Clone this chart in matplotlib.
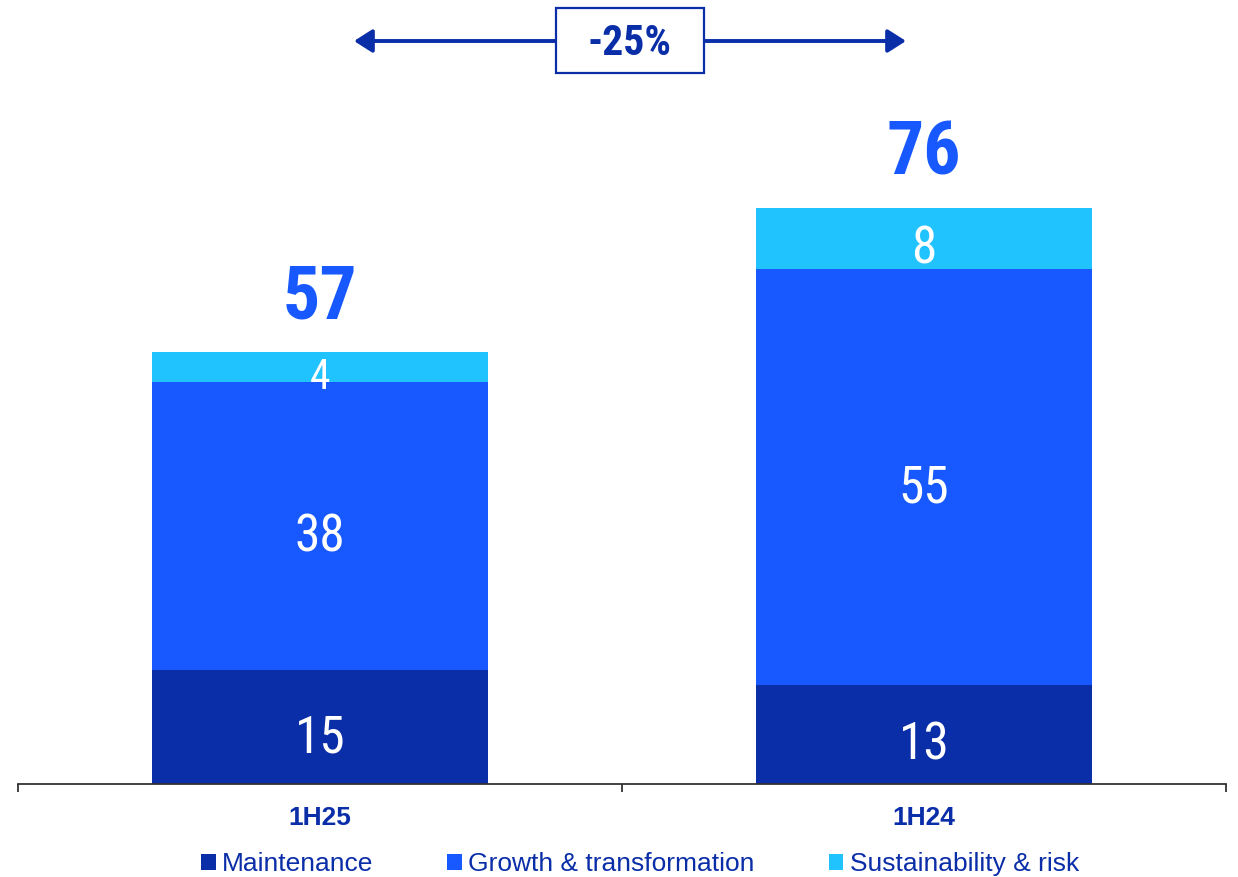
import matplotlib
matplotlib.use("Agg")
import matplotlib.pyplot as plt
from matplotlib.patches import Patch, Rectangle, FancyArrowPatch

# Capex by category (EUR m)
periods = ["1H25", "1H24"]
maintenance = [15, 13]
growth = [38, 55]
sustainability = [4, 8]
totals = [57, 76]
change_label = "-25%"
series_names = ["Maintenance", "Growth & transformation", "Sustainability & risk"]

C_MAINT = "#0A2DA8"
C_GROWTH = "#1759FF"
C_SUST = "#21C3FF"
C_TEXT = "#0A2DA8"

NUM_FONT = ["Roboto Condensed", "DejaVu Sans"]
LBL_FONT = ["Liberation Sans", "DejaVu Sans"]

fig = plt.figure(figsize=(12.38, 8.77), dpi=100)
ax = fig.add_axes([18 / 1238, 1 - 784 / 877, 1208 / 1238, 784 / 877])

x = list(range(len(periods)))
width = 0.556
stacks = [maintenance, growth, sustainability]
colors = [C_MAINT, C_GROWTH, C_SUST]
bottoms = [0] * len(periods)
for vals, col in zip(stacks, colors):
    ax.bar(x, vals, width, bottom=bottoms, color=col, edgecolor="none", zorder=2)
    for xi, b, v in zip(x, bottoms, vals):
        # thin segments get a smaller label
        small = v < 5
        ax.annotate(f"{v}", (xi, b + v / 2), xytext=(0, -16 if small else -18),
                    textcoords="offset points", ha="center", va="baseline",
                    color="white", fontsize=30 if small else 37,
                    family=NUM_FONT, zorder=3)
    bottoms = [b + v for b, v in zip(bottoms, vals)]

for xi, t in zip(x, totals):
    ax.annotate(f"{t}", (xi, t), xytext=(0, 24), textcoords="offset points",
                ha="center", va="baseline", color=C_GROWTH, fontsize=53,
                fontweight="bold", family=NUM_FONT)

ax.set_xlim(-0.5, 1.5)
ax.set_ylim(0, 784 / 7.58)
for s in ("left", "right", "top"):
    ax.spines[s].set_visible(False)
ax.spines["bottom"].set_color("#333333")
ax.spines["bottom"].set_linewidth(1.3)
ax.set_yticks([])
ax.set_xticks(x)
ax.set_xticklabels(periods, fontsize=19, fontweight="bold", color=C_TEXT, family=LBL_FONT)
ax.tick_params(axis="x", which="major", length=0, pad=16)
ax.set_xticks([-0.5, 0.5, 1.5], minor=True)
ax.tick_params(axis="x", which="minor", length=6, width=1.3, color="#333333", direction="out")

# Change indicator: double-headed arrow with boxed percentage
W, H = 1238, 877
arrow = FancyArrowPatch((354 / W, 1 - 41 / H), (906 / W, 1 - 41 / H),
                        transform=fig.transFigure, arrowstyle="<|-|>,head_length=11,head_width=7",
                        mutation_scale=1, color=C_TEXT, linewidth=2.8, shrinkA=0, shrinkB=0)
fig.patches.append(arrow)
box = Rectangle((556 / W, 1 - 73 / H), 148 / W, 65 / H, transform=fig.transFigure,
                facecolor="white", edgecolor=C_TEXT, linewidth=1.6, zorder=5)
fig.patches.append(box)
fig.text(630 / W, 1 - 39 / H, change_label, ha="center", va="center_baseline",
         fontsize=30, fontweight="bold", color=C_TEXT, family=NUM_FONT, zorder=6)

handles = [Patch(facecolor=c, edgecolor="none") for c in colors]
leg = fig.legend(handles, series_names, loc="center", bbox_to_anchor=(0.517, 1 - 864 / 877),
                 ncol=3, frameon=False, prop={"family": LBL_FONT, "size": 19},
                 handlelength=0.55, handleheight=0.55, handletextpad=0.25,
                 columnspacing=2.8, borderpad=0.2)
for t in leg.get_texts():
    t.set_color(C_TEXT)

fig.savefig("out.png", dpi=100)
